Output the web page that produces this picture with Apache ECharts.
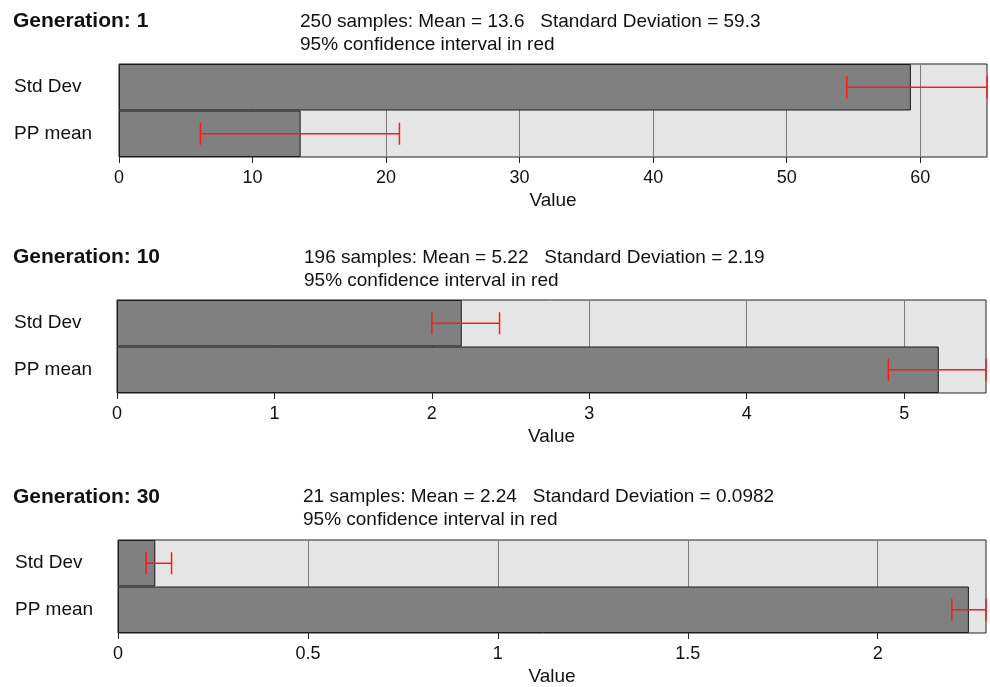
<!DOCTYPE html>
<html>
<head>
<meta charset="utf-8">
<script src="https://cdn.jsdelivr.net/npm/echarts@6/dist/echarts.min.js"></script>
<style>
  html, body { margin: 0; padding: 0; background: #fff; }
  #e_chart_1 { width: 990px; height: 687px; }
</style>
</head>
<body>
<div id="e_chart_1"></div>
<script>
var dom = document.getElementById("e_chart_1");
var myChart = echarts.init(dom);
var option = null;

// rows, bottom to top
var categories = ['PP mean', 'Std Dev'];

var generations = ['Generation: 1', 'Generation: 10', 'Generation: 30'];
var samples = [250, 196, 21];
var meanText = ['13.6', '5.22', '2.24'];
var sdText = ['59.3', '2.19', '0.0982'];

// bar values [PP mean, Std Dev]
var gen1Values = [13.6, 59.3];
var gen10Values = [5.22, 2.19];
var gen30Values = [2.24, 0.0982];

// 95% CI [row, low, high]
var gen1CI = [[0, 6.1, 21.0], [1, 54.5, 65]];
var gen10CI = [[0, 4.9, 5.52], [1, 2.0, 2.43]];
var gen30CI = [[0, 2.195, 2.285], [1, 0.074, 0.141]];

var axisMax = [65, 5.52, 2.285];
var ticks1 = [0, 10, 20, 30, 40, 50, 60];
var ticks10 = [0, 1, 2, 3, 4, 5];
var ticks30 = [0, 0.5, 1, 1.5, 2];

var font = 'Liberation Sans, Arial, sans-serif';

var grids = [
    { left: 119, right: 3, top: 64, height: 93 },
    { left: 117, right: 4, top: 300, height: 93 },
    { left: 118, right: 4, top: 540, height: 93 }
];
var titleTops = [10, 246, 486];
var statsTops = [10, 246, 485];
var statsLeft = [300, 304, 303];
var labelMargin = [105, 103, 103];

function errorBar(params, api) {
    var row = api.value(0);
    var p1 = api.coord([api.value(1), row]);
    var p2 = api.coord([api.value(2), row]);
    var h = 11;
    var style = { stroke: '#ff1a1a', lineWidth: 1.5 };
    return {
        type: 'group',
        children: [
            { type: 'line', shape: { x1: p1[0], y1: p1[1], x2: p2[0], y2: p2[1] }, style: style },
            { type: 'line', shape: { x1: p1[0], y1: p1[1] - h, x2: p1[0], y2: p1[1] + h }, style: style },
            { type: 'line', shape: { x1: p2[0], y1: p2[1] - h, x2: p2[0], y2: p2[1] + h }, style: style }
        ]
    };
}

var titles = [];
generations.forEach(function (g, i) {
    titles.push({
        text: g, left: 13, top: titleTops[i], padding: 0,
        textStyle: { fontFamily: font, fontSize: 21, fontWeight: 'bold', color: '#111', lineHeight: 22 }
    });
    titles.push({
        text: samples[i] + ' samples: Mean = ' + meanText[i] + '   Standard Deviation = ' + sdText[i] +
            '\n95% confidence interval in red',
        left: statsLeft[i], top: statsTops[i], padding: 0,
        textStyle: { fontFamily: font, fontSize: 19, fontWeight: 'normal', color: '#111', lineHeight: 23 }
    });
});

var tickSets = [ticks1, ticks10, ticks30];
var valueSets = [gen1Values, gen10Values, gen30Values];
var ciSets = [gen1CI, gen10CI, gen30CI];

var xAxes = [], yAxes = [], series = [];
grids.forEach(function (gr, i) {
    gr.show = true;
    gr.backgroundColor = '#e5e5e5';
    gr.borderColor = '#222';
    gr.borderWidth = 1;
    xAxes.push({
        type: 'value', gridIndex: i, min: 0, max: axisMax[i],
        name: 'Value', nameLocation: 'middle', nameGap: 34,
        nameTextStyle: { fontFamily: font, fontSize: 19, color: '#111' },
        axisLine: { show: false },
        axisTick: { show: true, length: 6, lineStyle: { color: '#222' }, customValues: tickSets[i] },
        axisLabel: { margin: 12, fontFamily: font, fontSize: 18, color: '#111', customValues: tickSets[i] },
        splitLine: { show: true, lineStyle: { color: '#7a7a7a', width: 1 } }
    });
    yAxes.push({
        type: 'category', gridIndex: i, data: categories,
        axisLine: { show: false }, axisTick: { show: false },
        axisLabel: { align: 'left', margin: labelMargin[i], fontFamily: font, fontSize: 19, color: '#111' }
    });
    series.push({
        type: 'bar', xAxisIndex: i, yAxisIndex: i,
        barWidth: '100%', barCategoryGap: 0,
        itemStyle: { color: '#808080', borderColor: '#1a1a1a', borderWidth: 1 },
        silent: true,
        data: valueSets[i]
    });
    series.push({
        type: 'custom', xAxisIndex: i, yAxisIndex: i,
        renderItem: errorBar,
        encode: { x: [1, 2], y: 0 },
        silent: true, z: 10,
        data: ciSets[i]
    });
});

option = {
    backgroundColor: '#fff',
    animation: false,
    title: titles,
    grid: grids,
    xAxis: xAxes,
    yAxis: yAxes,
    series: series
};

if (option && typeof option === "object") {
    myChart.setOption(option, true);
}
</script>
</body>
</html>
